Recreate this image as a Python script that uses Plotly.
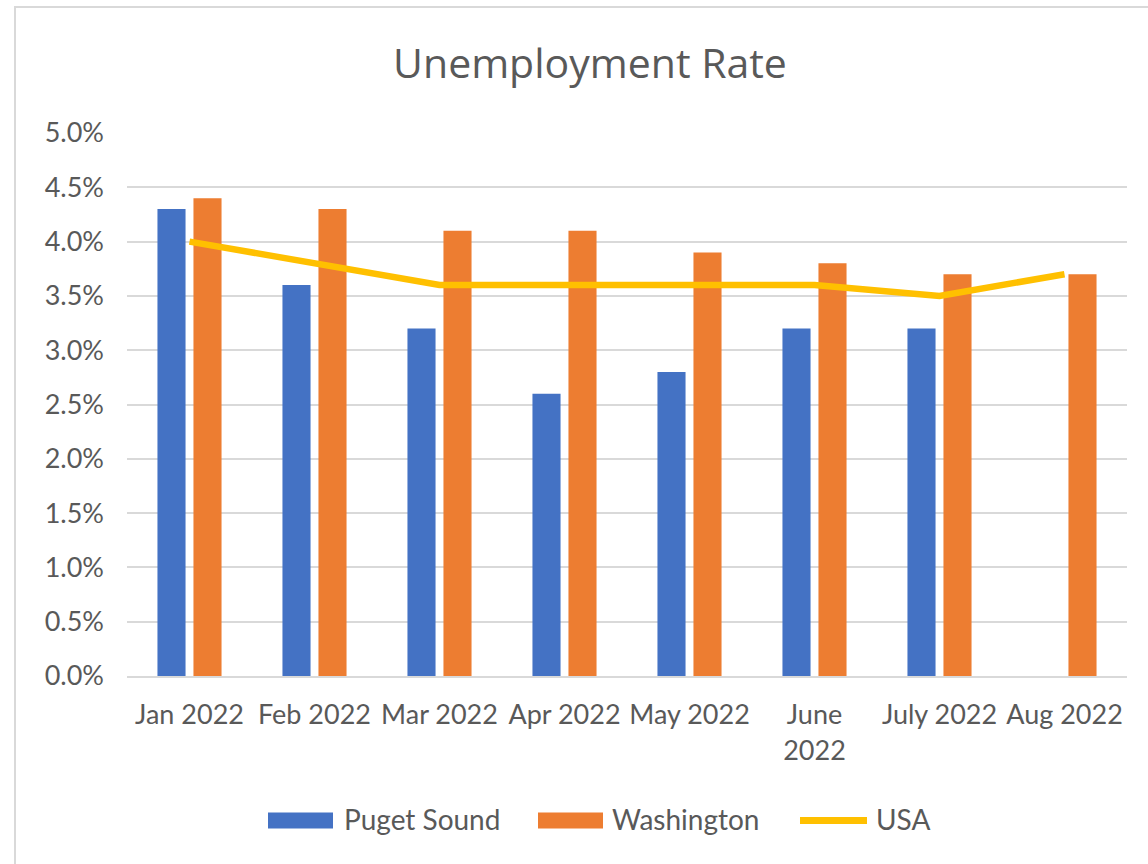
import plotly.graph_objects as go

months = ["Jan 2022", "Feb 2022", "Mar 2022", "Apr 2022", "May 2022", "June<br>2022", "July 2022", "Aug 2022"]
puget_sound = [0.043, 0.036, 0.032, 0.026, 0.028, 0.032, 0.032, None]
washington = [0.044, 0.043, 0.041, 0.041, 0.039, 0.038, 0.037, 0.037]
usa = [0.040, 0.038, 0.036, 0.036, 0.036, 0.036, 0.035, 0.037]
y_ticks = [0.0, 0.005, 0.01, 0.015, 0.02, 0.025, 0.03, 0.035, 0.04, 0.045, 0.05]

series_names = ["Puget Sound", "Washington", "USA"]
series_colors = ["#4472C4", "#ED7D31", "#FFC000"]

FONT = "Lato"
GREY = "#595959"

# plot area geometry (pixels) used for converting legend positions to paper coords
L, R, T, B = 127, 21, 133, 188
PW, PH = 1148 - L - R, 864 - T - B


def px_x(px):
    return (px - L) / PW


def px_y(py):
    return (864 - B - py) / PH


fig = go.Figure()
fig.add_trace(go.Bar(x=months, y=puget_sound, name=series_names[0], marker_color=series_colors[0],
                     marker_line_width=0, showlegend=False))
fig.add_trace(go.Bar(x=months, y=washington, name=series_names[1], marker_color=series_colors[1],
                     marker_line_width=0, showlegend=False))
fig.add_trace(go.Scatter(x=months, y=usa, name=series_names[2], mode="lines",
                         line=dict(color=series_colors[2], width=6.5), showlegend=False))

# custom legend (Excel-style wide swatches)
shapes = [dict(type="rect", xref="paper", yref="paper",
               x0=px_x(15), x1=1.2, y0=-0.6, y1=px_y(7),
               line=dict(color="#D9D9D9", width=2), fillcolor="rgba(0,0,0,0)", layer="below")]
annotations = []
leg_y = 820.5
swatch_x = [268, 538, 797]
text_x = [342, 610, 874]
for i, name in enumerate(series_names):
    if i < 2:
        shapes.append(dict(type="rect", xref="paper", yref="paper",
                           x0=px_x(swatch_x[i]), x1=px_x(swatch_x[i] + 65),
                           y0=px_y(leg_y + 8), y1=px_y(leg_y - 8),
                           line=dict(width=0), fillcolor=series_colors[i]))
    else:
        shapes.append(dict(type="line", xref="paper", yref="paper",
                           x0=px_x(swatch_x[i] + 3), x1=px_x(swatch_x[i] + 70),
                           y0=px_y(leg_y), y1=px_y(leg_y),
                           line=dict(width=7, color=series_colors[i])))
    annotations.append(dict(text=name, xref="paper", yref="paper", x=px_x(text_x[i]),
                            y=px_y(leg_y - 1.5), xanchor="left", yanchor="middle", showarrow=False,
                            font=dict(family=FONT, size=28, color=GREY)))

fig.update_layout(
    width=1148, height=864,
    margin=dict(l=L, r=R, t=T, b=B),
    paper_bgcolor="white", plot_bgcolor="white",
    font=dict(family=FONT, color=GREY, size=27),
    title=dict(text="Unemployment Rate", x=590 / 1148, xanchor="center", y=1 - 64 / 864,
               yanchor="middle", font=dict(family="Open Sans", size=41, color=GREY)),
    barmode="group", bargap=0.424, bargroupgap=0.22,
    showlegend=False,
    shapes=shapes,
    annotations=annotations,
)
fig.update_xaxes(showgrid=False, showline=True, linecolor="#D9D9D9", linewidth=2,
                 ticks="", tickfont=dict(size=27, color=GREY), ticklabelstandoff=14,
                 range=[-0.5, 7.5])
fig.update_yaxes(range=[0, 0.05], tickvals=y_ticks, tickformat=".1%", showgrid=True,
                 gridcolor="#D9D9D9", gridwidth=2, zeroline=False, showline=False,
                 ticks="", tickfont=dict(size=27, color=GREY), ticklabelstandoff=22)

fig.write_html("out.html")
